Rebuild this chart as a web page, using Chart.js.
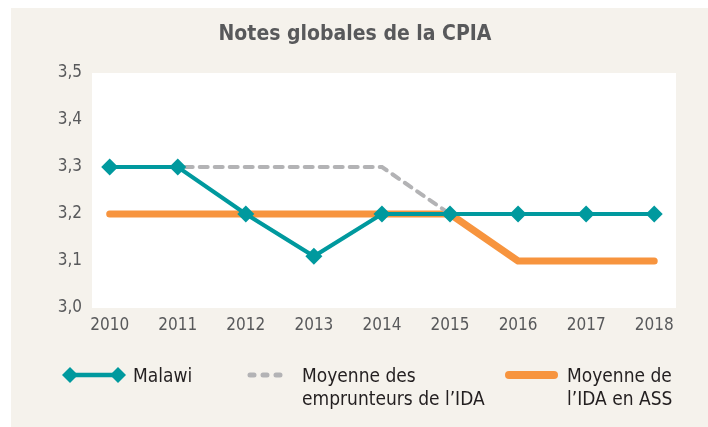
<!DOCTYPE html>
<html><head><meta charset="utf-8">
<script src="https://cdn.jsdelivr.net/npm/chart.js@4/dist/chart.umd.min.js"></script>
<style>
html,body{margin:0;padding:0;background:#fff;}
#wrap{position:relative;width:708px;height:427px;}
</style></head>
<body><div id="wrap"><canvas id="c" width="708" height="427"></canvas></div>
<script>
const years = [2010, 2011, 2012, 2013, 2014, 2015, 2016, 2017, 2018];
const malawi = [3.3, 3.3, 3.2, 3.11, 3.2, 3.2, 3.2, 3.2, 3.2];
const idaBorrowers = [3.3, 3.3, 3.3, 3.3, 3.3, 3.2, 3.2, 3.2, 3.2];
const idaSSA = [3.2, 3.2, 3.2, 3.2, 3.2, 3.2, 3.1, 3.1, 3.1];
const yTicks = [3.0, 3.1, 3.2, 3.3, 3.4, 3.5];
const titleText = 'Notes globales de la CPIA';
const seriesNames = ['Malawi', ['Moyenne des', 'emprunteurs de l\u2019IDA'], ['Moyenne de', 'l\u2019IDA en ASS']];

const FONT = "'Liberation Sans Narrow','Arial Narrow','DejaVu Sans Condensed',sans-serif";
const TEAL = '#00999e', GREY = '#b3b3b5', ORANGE = '#f7943e', CREAM = '#f5f2ec';

const pts = arr => arr.map((v, i) => ({x: years[i], y: v}));

const bgPlugin = {
  id: 'bg',
  beforeDraw(chart) {
    const {ctx, chartArea: a} = chart;
    ctx.save();
    ctx.fillStyle = CREAM;
    ctx.fillRect(11, 8, 708 - 11, 427 - 8);
    ctx.fillStyle = '#ffffff';
    ctx.fillRect(a.left, a.top, a.right - a.left, a.bottom - a.top);
    ctx.fillStyle = '#58595b';
    ctx.font = "bold 21px " + FONT;
    ctx.textAlign = 'center';
    ctx.textBaseline = 'middle';
    ctx.fillText(titleText, 355, 35);
    ctx.restore();
  },
  afterDraw(chart) {
    const {ctx} = chart;
    const ds = chart.data.datasets;
    ctx.save();
    const ly = 375;
    // Malawi
    ctx.strokeStyle = ds[0].borderColor; ctx.lineWidth = 4.5;
    ctx.beginPath(); ctx.moveTo(70, ly); ctx.lineTo(118, ly); ctx.stroke();
    ctx.fillStyle = ds[0].borderColor;
    [70, 118].forEach(x => {
      ctx.beginPath(); ctx.moveTo(x - 8, ly); ctx.lineTo(x, ly - 8); ctx.lineTo(x + 8, ly); ctx.lineTo(x, ly + 8); ctx.closePath(); ctx.fill();
    });
    // grey dashed
    ctx.strokeStyle = ds[1].borderColor; ctx.lineWidth = 5; ctx.lineCap = 'round';
    ctx.setLineDash([4, 9]);
    ctx.beginPath(); ctx.moveTo(250, ly); ctx.lineTo(287, ly); ctx.stroke();
    ctx.setLineDash([]);
    // orange
    ctx.strokeStyle = ds[2].borderColor; ctx.lineWidth = 8; ctx.lineCap = 'round';
    ctx.beginPath(); ctx.moveTo(509, ly); ctx.lineTo(554, ly); ctx.stroke();
    // text
    ctx.fillStyle = '#231f20';
    ctx.font = "19px " + FONT;
    ctx.textAlign = 'left';
    ctx.textBaseline = 'alphabetic';
    ctx.fillText(seriesNames[0], 133, 382);
    ctx.fillText(seriesNames[1][0], 302, 382);
    ctx.fillText(seriesNames[1][1], 302, 405);
    ctx.fillText(seriesNames[2][0], 567, 382);
    ctx.fillText(seriesNames[2][1], 567, 405);
    ctx.restore();
  }
};

new Chart(document.getElementById('c'), {
  type: 'line',
  data: {
    datasets: [
      {label: 'Malawi', data: pts(malawi), borderColor: TEAL, backgroundColor: TEAL, borderWidth: 4,
       pointStyle: 'rectRot', pointRadius: 8.5, pointHoverRadius: 8.5, pointBorderWidth: 0, order: 1},
      {label: 'Moyenne des emprunteurs de l\u2019IDA', data: pts(idaBorrowers), borderColor: GREY, borderWidth: 4,
       borderDash: [8, 7], borderCapStyle: 'round', pointRadius: 0, order: 2},
      {label: 'Moyenne de l\u2019IDA en ASS', data: pts(idaSSA), borderColor: ORANGE, borderWidth: 7,
       borderCapStyle: 'round', borderJoinStyle: 'round', pointRadius: 0, order: 3}
    ]
  },
  options: {
    responsive: false,
    animation: false,
    layout: {padding: {left: 11, right: 32, top: 73, bottom: 89}},
    plugins: {legend: {display: false}, title: {display: false}, tooltip: {enabled: false}},
    scales: {
      x: {
        type: 'linear', min: 2009.74, max: 2018.32,
        afterBuildTicks: s => { s.ticks = years.map(v => ({value: v})); },
        afterFit: s => { s.height = 30; },
        grid: {display: false, drawTicks: false}, border: {display: false},
        ticks: {color: '#58595b', font: {family: FONT, size: 17}, padding: 7, maxRotation: 0,
                callback: v => String(v)}
      },
      y: {
        min: 3.0, max: 3.5,
        afterBuildTicks: s => { s.ticks = yTicks.map(v => ({value: v})); },
        afterFit: s => { s.width = 81; },
        grid: {display: false, drawTicks: false}, border: {display: false},
        ticks: {color: '#58595b', font: {family: FONT, size: 17}, padding: 10,
                callback: v => v.toFixed(1).replace('.', ',')}
      }
    }
  },
  plugins: [bgPlugin]
});
</script></body></html>
